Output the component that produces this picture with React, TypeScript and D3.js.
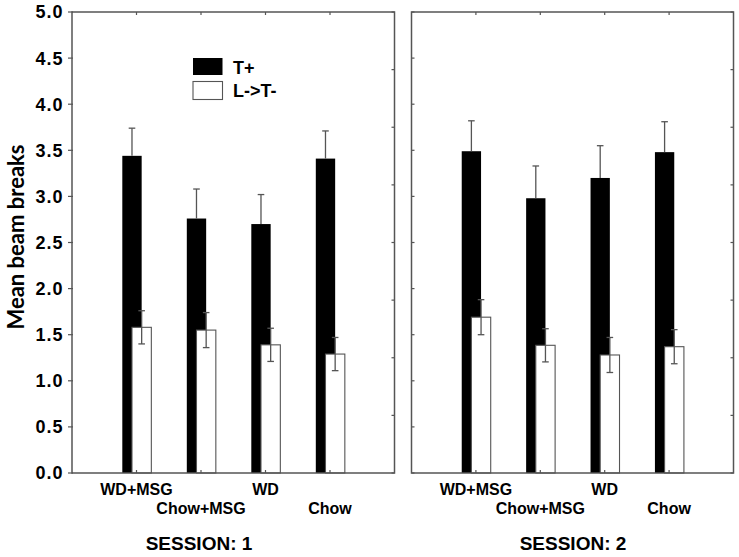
import React from "react";
import * as d3 from "d3";

const categories = ["WD+MSG", "Chow+MSG", "WD", "Chow"];
const sessions = ["SESSION: 1", "SESSION: 2"];
const seriesNames = ["T+", "L->T-"];

const tPlusS1 = [3.44, 2.76, 2.7, 3.41];
const tPlusErrS1 = [0.3, 0.32, 0.32, 0.3];
const ltS1 = [1.58, 1.55, 1.39, 1.29];
const ltErrS1 = [0.18, 0.19, 0.18, 0.18];

const tPlusS2 = [3.49, 2.98, 3.2, 3.48];
const tPlusErrS2 = [0.33, 0.35, 0.35, 0.33];
const ltS2 = [1.69, 1.385, 1.28, 1.37];
const ltErrS2 = [0.19, 0.18, 0.19, 0.185];

const yTicks = [0, 0.5, 1, 1.5, 2, 2.5, 3, 3.5, 4, 4.5, 5];

const W = 739;
const H = 557;
const top = 12;
const bottom = 473;
const panels = [
  { x0: 72, x1: 394.5, labelX: 199, tPlus: tPlusS1, tErr: tPlusErrS1, lt: ltS1, ltErr: ltErrS1, leftLabels: true },
  { x0: 411.5, x1: 733.5, labelX: 573, tPlus: tPlusS2, tErr: tPlusErrS2, lt: ltS2, ltErr: ltErrS2, leftLabels: false },
];

const frame = "#555";
const txt = "#000";
const y = d3.scaleLinear().domain([0, 5]).range([bottom, top]);
const yRight = d3.scaleLinear().domain([0, 8]).range([bottom, top]);

function Panel({ p, idx }: { p: any; idx: number }) {
  const x = d3.scaleLinear().domain([0, 5]).range([p.x0, p.x1]);
  const cap = 3.3;
  return (
    <g>
      {categories.map((c, i) => {
        const cx = i + 1;
        const bx0 = x(cx - 0.22), bx1 = x(cx + 0.08);
        const wx0 = x(cx - 0.07), wx1 = x(cx + 0.23);
        const bc = x(cx - 0.07);
        const wc = x(cx + 0.08);
        const tv = p.tPlus[i], te = p.tErr[i];
        const lv = p.lt[i], le = p.ltErr[i];
        return (
          <g key={c}>
            <rect x={bx0} y={y(tv)} width={bx1 - bx0} height={y(0) - y(tv)} fill="#000" />
            <line x1={bc} x2={bc} y1={y(tv)} y2={y(tv + te)} stroke={frame} strokeWidth={1.3} />
            <line x1={bc - cap} x2={bc + cap} y1={y(tv + te)} y2={y(tv + te)} stroke={frame} strokeWidth={1.3} />
            <rect x={wx0} y={y(lv)} width={wx1 - wx0} height={y(0) - y(lv)} fill="#fff" stroke={frame} strokeWidth={1.1} />
            <line x1={wc} x2={wc} y1={y(lv - le)} y2={y(lv + le)} stroke={frame} strokeWidth={1.3} />
            <line x1={wc - cap} x2={wc + cap} y1={y(lv + le)} y2={y(lv + le)} stroke={frame} strokeWidth={1.3} />
            <line x1={wc - cap} x2={wc + cap} y1={y(lv - le)} y2={y(lv - le)} stroke={frame} strokeWidth={1.3} />
            <line x1={x(cx)} x2={x(cx)} y1={bottom} y2={bottom - 3} stroke={frame} strokeWidth={1.2} />
            <line x1={x(cx)} x2={x(cx)} y1={top} y2={top + 3} stroke={frame} strokeWidth={1.2} />
            <text
              x={x(cx)}
              y={i % 2 === 0 ? 495 : 514}
              textAnchor="middle"
              fontFamily="Liberation Sans, Arial, sans-serif"
              fontWeight="bold"
              fontSize={16}
              fill={txt}
            >
              {c}
            </text>
          </g>
        );
      })}
      {yTicks.map((t) =>
        p.leftLabels ? (
          <g key={t}>
            <line x1={p.x0 - 4} x2={p.x0 + 1} y1={y(t)} y2={y(t)} stroke={frame} strokeWidth={1.2} />
            <text
              x={63.5}
              y={y(t)}
              dy="0.36em"
              textAnchor="end"
              fontFamily="Liberation Sans, Arial, sans-serif"
              fontWeight="bold"
              fontSize={18}
              letterSpacing={1}
              fill={txt}
            >
              {t.toFixed(1)}
            </text>
          </g>
        ) : (
          <line key={t} x1={p.x0} x2={p.x0 + 3} y1={y(t)} y2={y(t)} stroke={frame} strokeWidth={1.2} />
        )
      )}
      {yRight.ticks(8).map((t) => (
        <line key={"r" + t} x1={p.x1 - 3} x2={p.x1} y1={yRight(t)} y2={yRight(t)} stroke={frame} strokeWidth={1.2} />
      ))}
      <rect x={p.x0} y={top} width={p.x1 - p.x0} height={bottom - top} fill="none" stroke={frame} strokeWidth={1.5} />
      <text
        x={p.labelX}
        y={550}
        textAnchor="middle"
        fontFamily="Liberation Sans, Arial, sans-serif"
        fontWeight="bold"
        fontSize={19}
        fill={txt}
      >
        {sessions[idx]}
      </text>
    </g>
  );
}

export default function App() {
  return (
    <svg
      width={W}
      height={H}
      style={{ position: "absolute", left: 0, top: 0, background: "#fff", display: "block" }}
    >
      <rect x={0} y={0} width={W} height={H} fill="#fff" />
      {panels.map((p, i) => (
        <Panel key={i} p={p} idx={i} />
      ))}
      <rect x={193} y={58} width={29.5} height={17} fill="#000" />
      <rect x={193} y={81.5} width={29.5} height={18} fill="#fff" stroke={frame} strokeWidth={1.1} />
      <text x={233} y={74} fontFamily="Liberation Sans, Arial, sans-serif" fontWeight="bold" fontSize={18} fill={txt}>
        {seriesNames[0]}
      </text>
      <text x={233} y={97} fontFamily="Liberation Sans, Arial, sans-serif" fontWeight="bold" fontSize={18} fill={txt}>
        {seriesNames[1]}
      </text>
      <text
        transform={`translate(24, 237) rotate(-90)`}
        textAnchor="middle"
        fontFamily="Lato, Open Sans, sans-serif"
        fontWeight="bold"
        fontSize={22}
        fill={txt}
      >
        Mean beam breaks
      </text>
    </svg>
  );
}
